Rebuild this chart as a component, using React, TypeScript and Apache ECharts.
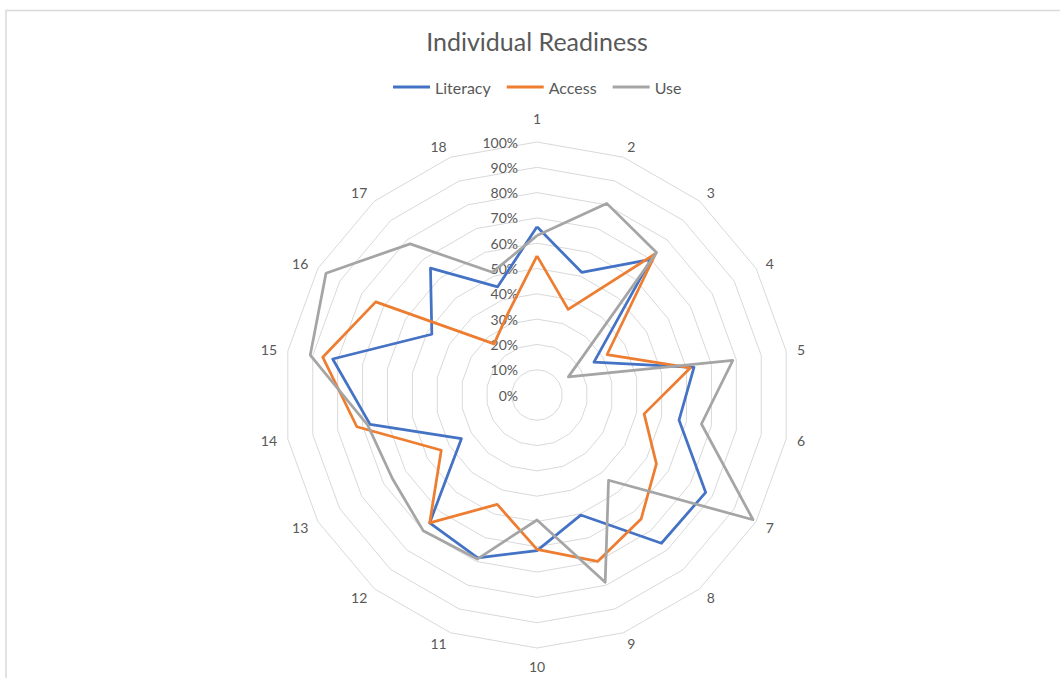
import React, { useEffect, useRef } from "react";
import * as echarts from "echarts";

const categories = ["1", "2", "3", "4", "5", "6", "7", "8", "9", "10", "11", "12", "13", "14", "15", "16", "17", "18"];
const literacy = [66.5, 51.6, 70, 26, 63, 57, 77, 76.5, 50.5, 61.5, 68.5, 66, 34.5, 67, 82, 48, 65.5, 45.5];
const access = [55, 36, 73, 32, 61.5, 43, 54.5, 64, 70, 61, 46, 66, 43.7, 72.3, 86, 73.6, 26.4, 34];
const use = [63, 80.6, 73.5, 14.3, 78.6, 66, 98.6, 44, 78.8, 49.4, 69, 70, 66, 68, 91, 96.3, 78, 51.6];
const ringLabels = ["0%", "10%", "20%", "30%", "40%", "50%", "60%", "70%", "80%", "90%", "100%"];
const seriesNames = ["Literacy", "Access", "Use"];
const seriesColors = ["#4472C4", "#ED7D31", "#A5A5A5"];

const FONT = "Lato, 'Open Sans', sans-serif";
const TEXT = "#595959";
const CX = 537;
const CY = 395;
const R = 253;

export default function App() {
  const ref = useRef<HTMLDivElement>(null);
  useEffect(() => {
    if (!ref.current) return;
    const chart = echarts.init(ref.current, undefined, { renderer: "svg" });
    const n = categories.length;
    // ECharts places indicators counter-clockwise; reorder so they run clockwise
    const order = categories.map((_, i) => (n - i) % n);
    const all = [literacy, access, use];
    chart.setOption({
      animation: false,
      backgroundColor: "#ffffff",
      title: {
        text: "Individual Readiness",
        left: CX,
        textAlign: "center",
        top: 28,
        padding: 0,
        textStyle: { fontFamily: FONT, fontSize: 25, fontWeight: "normal", color: TEXT },
      },
      legend: {
        data: seriesNames,
        left: 393,
        top: 79,
        padding: 0,
        icon: "rect",
        itemWidth: 37,
        itemHeight: 3,
        itemGap: 16,
        textStyle: { fontFamily: FONT, fontSize: 16, color: TEXT },
      },
      radar: {
        center: [CX, CY],
        radius: R,
        startAngle: 90,
        splitNumber: 10,
        shape: "polygon",
        nameGap: 11,
        indicator: order.map((i, k) =>
          k === 0
            ? { name: categories[i], min: 0, max: 100, nameGap: 17 }
            : { name: categories[i], min: 0, max: 100 }
        ),
        axisName: { color: TEXT, fontSize: 14, fontFamily: FONT },
        splitLine: { lineStyle: { color: "#d9d9d9", width: 1 } },
        splitArea: { show: false },
        axisLine: { show: false },
        axisTick: { show: false },
        axisLabel: { show: false },
      },
      graphic: [
        {
          type: "rect",
          silent: true,
          shape: { x: 6, y: 10.5, width: 1100, height: 700 },
          style: { fill: "none", stroke: "#d9d9d9", lineWidth: 1.5 },
        },
        ...ringLabels.map((t, i) => ({
          type: "text",
          silent: true,
          z: 1,
          x: 518,
          y: CY - (R * i) / (ringLabels.length - 1),
          style: {
            text: t,
            align: "right",
            verticalAlign: "middle",
            textAlign: "right",
            textVerticalAlign: "middle",
            fontSize: 14,
            fontFamily: FONT,
            fill: TEXT,
          },
        })),
      ],
      series: [
        {
          type: "radar",
          symbol: "none",
          z: 3,
          data: seriesNames.map((name, s) => ({
            name,
            value: order.map((i) => all[s][i]),
            lineStyle: { color: seriesColors[s], width: 2.75 },
            itemStyle: { color: seriesColors[s] },
          })),
        },
      ],
    });
    return () => chart.dispose();
  }, []);
  return (
    <div
      ref={ref}
      style={{ position: "absolute", left: 0, top: 0, width: 1060, height: 678, background: "#fff" }}
    />
  );
}
